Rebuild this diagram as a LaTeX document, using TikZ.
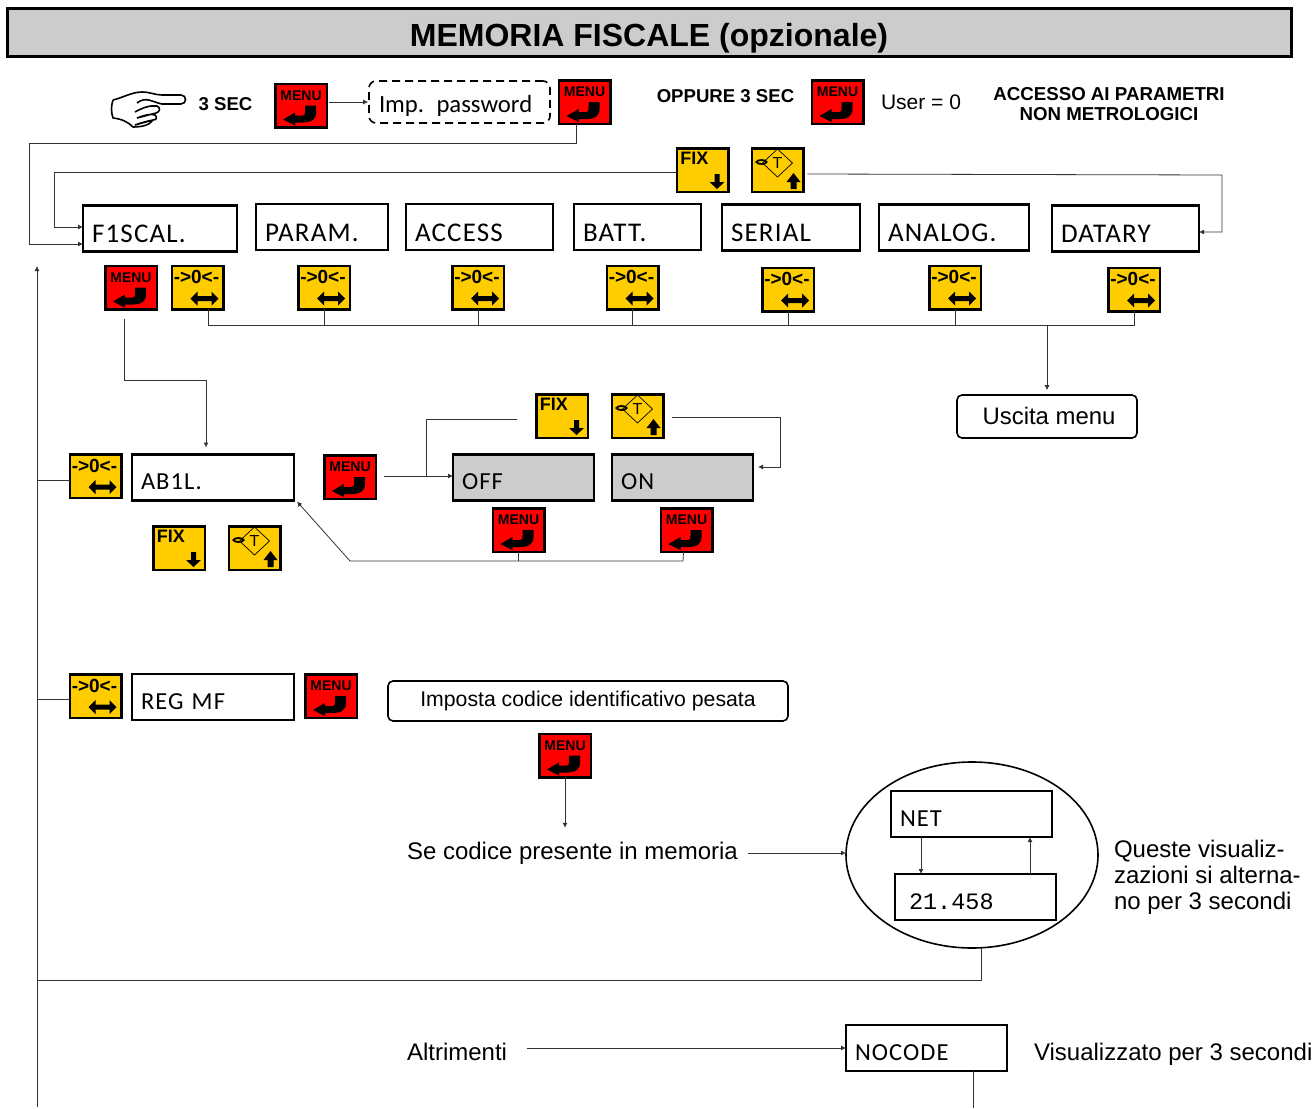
\documentclass[tikz,border=0pt]{standalone}
\usepackage{fontspec}
\setmainfont{Liberation Sans}
\newfontfamily\dispfont[LetterSpace=4.4]{Carlito}
\newfontfamily\pwdfont{Carlito}
\newfontfamily\lcdfont{Liberation Mono}
\usetikzlibrary{arrows.meta,shapes.geometric}
\definecolor{keyyellow}{HTML}{FFCC00}
\definecolor{panelgray}{HTML}{CCCCCC}
\newcommand{\fsz}[1]{\fontsize{#1}{#1}\selectfont}
\tikzset{
    wire/.style={line width=0.8pt,draw=black!80},
    link/.style={wire,-{Latex[length=5pt,width=5pt]}},
    keybox/.style={draw=black,line width=2.5pt,minimum width=51.5,minimum height=43.5,inner sep=0,outer sep=0},
    menubox/.style={keybox,fill=red,font=\bfseries\fsz{14},text height=9.5,text depth=20},
    fixbox/.style={keybox,fill=keyyellow,font=\bfseries\fsz{18},inner xsep=3.5,text width=44.5,align=left,text height=13,text depth=25},
    tarebox/.style={keybox,fill=keyyellow,font=\fsz{16},text height=12,text depth=16},
    zerobox/.style={keybox,fill=keyyellow,font=\bfseries\fsz{19},inner xsep=2,text width=47.5,align=left,text height=12,text depth=20},
    dispbox/.style={draw=black,line width=2.3pt,minimum width=#1,minimum height=46,inner xsep=9,inner ysep=0,outer sep=0,
        text width=#1-18,align=left,text height=30,text depth=2,font=\dispfont\fsz{27}},
    smallbox/.style={dispbox=#1,text height=26.5,font=\dispfont\fsz{24.5}},
    label/.style={inner sep=0,outer sep=0,font=\fsz{24},anchor=west},
    boldlabel/.style={inner sep=0,outer sep=0,font=\bfseries\fsz{18.6}}
}
\newcommand{\menukey}[2]{\node[menubox] (#1) at (#2) {MENU};
    \fill[shift={(#1.center)}] (-18,14)--(-6,7)--(-6,10)--(2,10)
        .. controls (4,10) and (4,8) .. (4,6)--(4,0)--(15,0)--(15,7) .. controls (15,14) and (10,17) .. (3,17)--(-6,17)--(-6,20)--cycle;}
\newcommand{\fixkey}[2]{\node[fixbox] (#1) at (#2) {FIX};
    \fill[shift={(#1.center)}] (12,4)--(17,4)--(17,12)--(22,12)--(14.5,19)--(7,12)--(12,12)--cycle;}
\newcommand{\tarekey}[2]{\node[tarebox] (#1) at (#2) {T};
    \begin{scope}[shift={(#1.center)}]
        \draw[line width=0.7pt] (0,-21)--(15,-7)--(0,7)--(-15,-7)--cycle;
        \draw[line width=1.8pt] (-16,-8) ellipse (5 and 2);
        \fill (16,3)--(23,12)--(19,12)--(19,19)--(13,19)--(13,12)--(9,12)--cycle;
    \end{scope}}
\newcommand{\zerokey}[2]{\node[zerobox] (#1) at (#2) {->0<-};
    \fill[shift={(#1.center)}] (-7,11)--(0,4)--(0,8.5)--(14,8.5)--(14,4)--(21,11)--(14,18)--(14,13.5)--(0,13.5)--(0,18)--cycle;}
\begin{document}
\begin{tikzpicture}[x=1pt,y=-1pt]
    \useasboundingbox (0,0) rectangle (1316,1108);
    \node[draw=black,line width=3pt,fill=panelgray,minimum width=1284,minimum height=48,inner sep=0,text height=31,text depth=4,font=\bfseries\fsz{32}] (title) at (649,33) {MEMORIA FISCALE (opzionale)};
    % hand
    \draw[line width=1.6pt,line join=round] (113,100) .. controls (122,98) and (132,92) .. (142,92) .. controls (150,92) and (155,95) .. (162,95)
        -- (181,95) .. controls (187,95) and (187,104) .. (181,104) -- (162,104) .. controls (152,102) and (146,96) .. (137,103)
        (135,112) .. controls (142,108) and (150,105) .. (157,106) .. controls (161,108) and (160,112) .. (156,113) -- (137,118)
        (137,118) .. controls (143,116) and (150,113) .. (155,115) .. controls (158,118) and (156,120) .. (153,120) -- (135,125)
        (135,125) .. controls (140,123) and (148,121) .. (153,120) .. controls (150,125) and (142,127) .. (133,127)
        .. controls (128,122) and (122,119) .. (113,118) .. controls (111,112) and (111,106) .. (113,100);
    \node[boldlabel] (hold) at (225.5,104) {3 SEC};
    \menukey{menuA}{301,105.5}
    \node[draw=black,dashed,dash pattern=on 8pt off 5pt,line width=1.6pt,rounded corners=7pt,minimum width=181,minimum height=42,inner xsep=10,inner ysep=0,text width=161,align=left,text height=20,text depth=0,font=\pwdfont\fsz{24.7}] (pwd) at (459.5,102) {Imp. password};
    \menukey{menuB}{584.5,102}
    \node[boldlabel] (orhold) at (725.5,96) {OPPURE 3 SEC};
    \menukey{menuG}{837.5,102}
    \node[label,font=\fsz{21}] (user) at (881,102) {User = 0};
    \node[boldlabel,align=center,font=\bfseries\fsz{18.7}] (access) at (1109,104) {ACCESSO AI PARAMETRI\\[1pt]NON METROLOGICI};
    \fixkey{fixA}{702.5,170}
    \tarekey{tareA}{777.5,170}
    % menu row
    \node[dispbox=154] (f1scal) at (160,228.5) {F1SCAL.};
    \node[dispbox=132] (param) at (322,227) {PARAM.};
    \node[dispbox=147] (accessb) at (479.5,227) {ACCESS};
    \node[dispbox=127] (batt) at (637.5,227) {BATT.};
    \node[dispbox=138] (serial) at (791,227.5) {SERIAL};
    \node[dispbox=150] (analog) at (954,227.5) {ANALOG.};
    \node[dispbox=147] (datary) at (1125.5,228.5) {DATARY};
    \menukey{menuC}{131,287.5}
    \zerokey{zeroA}{197.5,287.5}
    \zerokey{zeroB}{324,287.5}
    \zerokey{zeroC}{478,287.5}
    \zerokey{zeroD}{632.5,287.5}
    \zerokey{zeroE}{788,289.5}
    \zerokey{zeroF}{955,287.5}
    \zerokey{zeroG}{1134,289.5}
    \node[draw=black,line width=1.6pt,rounded corners=5pt,minimum width=180,minimum height=43,inner sep=0,font=\fsz{23.9}] (uscita) at (1047,416.5) {\hspace*{4pt}\raisebox{2pt}{Uscita menu}};
    % fiscal branch
    \zerokey{zeroH}{95.5,476}
    \node[smallbox=162] (ab1l) at (213,477.5) {AB1L.};
    \menukey{menuD}{350,477}
    \fixkey{fixB}{562,416}
    \tarekey{tareB}{637.5,416}
    \node[smallbox=141,fill=panelgray] (off) at (523.5,477.5) {OFF};
    \node[smallbox=141,fill=panelgray] (on) at (682.5,477.5) {ON};
    \menukey{menuE}{518.5,530}
    \menukey{menuF}{686.5,530}
    \fixkey{fixC}{179,548}
    \tarekey{tareC}{254.5,548}
    % reg branch
    \zerokey{zeroI}{95.5,696}
    \node[smallbox=162] (regmf) at (213,697) {REG MF};
    \menukey{menuH}{331,696}
    \node[draw=black,line width=1.6pt,rounded corners=5pt,minimum width=400,minimum height=40,inner sep=0,font=\fsz{21.25}] (imposta) at (588,701) {Imposta codice identificativo pesata};
    \menukey{menuI}{565,755.5}
    \node[label] (code) at (407,853) {Se codice presente in memoria};
    \node[draw=black,line width=1.6pt,ellipse,minimum width=252,minimum height=186,inner sep=0,outer sep=0] (readout) at (972,855) {};
    \node[smallbox=161] (net) at (971.5,814) {NET};
    \node[smallbox=161,inner xsep=14,text width=133,font=\lcdfont\fsz{23.5}] (value) at (975.5,897) {21.458};
    \node[label,align=left] (note) at (1114,877) {Queste visualiz-\\[2pt]zazioni si alterna-\\[2pt]no per 3 secondi};
    \node[label] (altri) at (407,1052) {Altrimenti};
    \node[smallbox=161] (nocode) at (926.5,1048) {NOCODE};
    \node[label] (shown) at (1034,1054) {Visualizzato per 3 secondi};
    % points without a node
    \coordinate (riserA) at (29,143);
    \coordinate (riserB) at (54,172);
    \coordinate (riserC) at (1222,175);
    \coordinate (riserD) at (780,417);
    \coordinate (busR) at (1135,325);
    \coordinate (dropA) at (206,380);
    \coordinate (railB) at (37,1107);
    \coordinate (railT) at (37,266);
    \coordinate (railX) at (37,980);
    \coordinate (branchA) at (426,476);
    \coordinate (returnA) at (683,561);
    \coordinate (returnB) at (350,561);
    \coordinate (endA) at (973,1108);
    % connectors
    \draw[link] ([xshift=2,yshift=3.5]menuA.east) -- ([yshift=3.5]menuA.east -| pwd.west);
    \draw[link] ([xshift=-8]menuB.south) |- (riserA) |- ([yshift=-15.5]f1scal.west);
    \draw[link] ([yshift=-2]fixA.west) -- (riserB) |- ([yshift=1.5]f1scal.west);
    \draw[link] ([xshift=4,yshift=-4]tareA.east) -- (riserC) |- ([yshift=-3.5]datary.east);
    \draw[wire] ([xshift=11]zeroA.south) |- (busR);
    \foreach \k in {zeroB,zeroC,zeroD,zeroE,zeroF,zeroG}
        \draw[wire] (\k.south) -- (\k.south |- busR);
    \draw[link,shorten >=4pt] (busR -| uscita.north) -- (uscita.north);
    \draw[wire] ([xshift=-7,yshift=-10]menuC.south) |- (dropA);
    \draw[link] (dropA) -- ([xshift=-7,yshift=7]ab1l.north);
    \draw[link] (railB) -- (railT);
    \draw[wire] ([yshift=-4]zeroH.west) -- ([yshift=-4]zeroH.west -| railT);
    \draw[wire] ([yshift=-3]zeroI.west) -- ([yshift=-3]zeroI.west -| railT);
    \draw[wire] (readout.-84) |- (railX);
    \draw[link] ([xshift=8,yshift=1]menuD.east) -- ([yshift=1.5]off.west);
    \draw[wire] (branchA) |- ([xshift=-19,yshift=-3]fixB.west);
    \draw[link] ([xshift=9,yshift=-1]tareB.east) -- (riserD) |- ([xshift=5,yshift=10.5]on.east);
    \draw[wire] (menuE.south) -- (menuE.south |- returnA);
    \draw[wire] ([xshift=-3]menuF.south) -- (returnA);
    \draw[link] (returnA) -- (returnB) -- ([xshift=3,yshift=-1]ab1l.south east);
    \draw[link] (menuI.south) -- ([yshift=14]menuI.south |- code.north);
    \draw[link,shorten <=10pt] (code.east) -- (code.east -| readout.west);
    \draw[link] ([xshift=-50.5]net.south) -- ([xshift=-54.5]value.north);
    \draw[link] ([xshift=54.5]value.north) -- ([xshift=58.5]net.south);
    \draw[link,shorten <=20pt] ([yshift=4]altri.east) -- ([yshift=4]altri.east -| nocode.west);
    \draw[wire] ([xshift=46.5]nocode.south) -- (endA);
\end{tikzpicture}
\end{document}
